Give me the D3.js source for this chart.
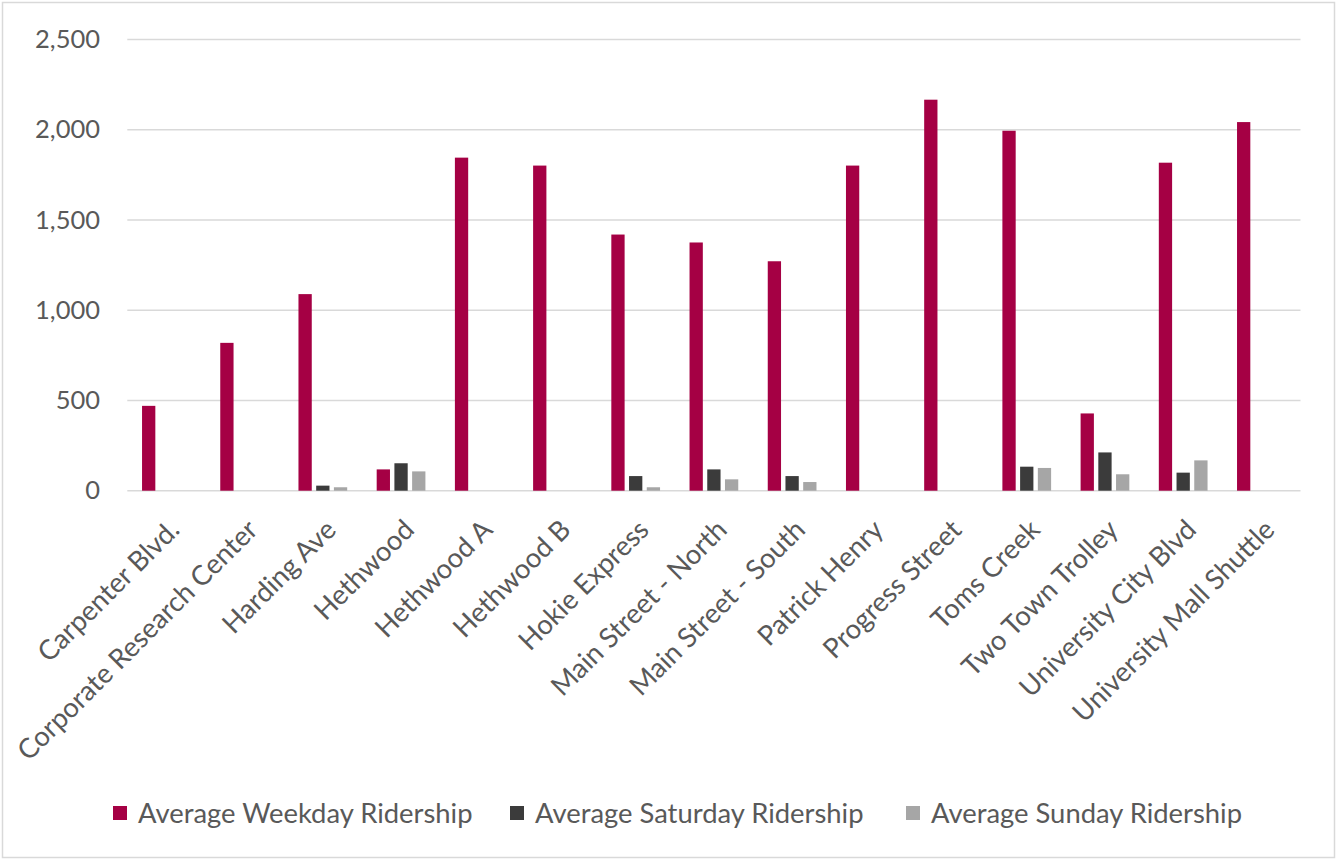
<!DOCTYPE html>
<html>
<head>
<meta charset="utf-8">
<script src="https://cdn.jsdelivr.net/npm/d3@7"></script>
<style>
  html, body { margin: 0; padding: 0; background: #fff; }
  svg text { font-family: Lato, "Open Sans", sans-serif; fill: #595959; }
</style>
</head>
<body>
<svg id="chart" width="1337" height="860"></svg>
<script>
// Routes
const routes = [
  "Carpenter Blvd.", "Corporate Research Center", "Harding Ave", "Hethwood",
  "Hethwood A", "Hethwood B", "Hokie Express", "Main Street - North",
  "Main Street - South", "Patrick Henry", "Progress Street", "Toms Creek",
  "Two Town Trolley", "University City Blvd", "University Mall Shuttle"
];

// Average riders per day type
const weekday  = [470, 819, 1089, 118, 1845, 1801, 1419, 1375, 1271, 1801, 2166, 1994, 428, 1817, 2042];
const saturday = [0, 0, 28, 152, 0, 0, 81, 118, 81, 0, 0, 133, 212, 100, 0];
const sunday   = [0, 0, 19, 107, 0, 0, 19, 63, 48, 0, 0, 126, 91, 168, 0];

const seriesNames = ["Average Weekday Ridership", "Average Saturday Ridership", "Average Sunday Ridership"];
const seriesColors = ["#a50044", "#3b3b3b", "#a6a6a6"];
const yTicks = [0, 500, 1000, 1500, 2000, 2500];

const svg = d3.select("#chart");
const W = 1337, H = 860;

// Outer chart frame
svg.append("rect")
  .attr("x", 2.5).attr("y", 2.5)
  .attr("width", W - 5).attr("height", H - 5)
  .attr("fill", "#fff").attr("stroke", "#d9d9d9").attr("stroke-width", 1.5);

const plot = { left: 127.3, right: 1300.5, top: 39.4, bottom: 490.7 };

const y = d3.scaleLinear().domain([0, 2500]).range([plot.bottom, plot.top]);
const x0 = d3.scaleBand().domain(routes).range([plot.left, plot.right]).padding(0);
const groupW = x0.bandwidth() * 0.623;
const x1 = d3.scaleBand().domain(seriesNames).range([0, groupW]).paddingInner(0.25).paddingOuter(0);

// Horizontal gridlines
svg.append("g")
  .selectAll("line")
  .data(yTicks)
  .join("line")
  .attr("x1", plot.left).attr("x2", plot.right)
  .attr("y1", d => y(d)).attr("y2", d => y(d))
  .attr("stroke", "#d9d9d9").attr("stroke-width", 1.5);

// Y axis labels
const yAxis = d3.axisLeft(y).tickValues(yTicks).tickFormat(d3.format(",")).tickSize(0).tickPadding(0);
const yg = svg.append("g").attr("transform", `translate(100,0)`).call(yAxis);
yg.select(".domain").remove();
yg.selectAll("text").attr("font-size", 25.5).attr("fill", "#595959")
  .style("font-family", "Lato, 'Open Sans', sans-serif");

// Bars
const table = routes.map((r, i) => ({ route: r, values: [weekday[i], saturday[i], sunday[i]] }));
const groups = svg.append("g")
  .selectAll("g")
  .data(table)
  .join("g")
  .attr("transform", d => `translate(${x0(d.route) + (x0.bandwidth() - groupW) / 2},0)`);

groups.selectAll("rect")
  .data(d => d.values.map((v, k) => ({ key: seriesNames[k], value: v, k })))
  .join("rect")
  .attr("x", d => x1(d.key))
  .attr("width", x1.bandwidth())
  .attr("y", d => y(d.value))
  .attr("height", d => y(0) - y(d.value))
  .attr("fill", d => seriesColors[d.k]);

// Category labels, rotated
const xAxis = d3.axisBottom(x0).tickSize(0).tickPadding(0);
const xg = svg.append("g").attr("transform", `translate(0,${plot.bottom})`).call(xAxis);
xg.select(".domain").remove();
xg.selectAll("text")
  .attr("font-size", 27.4)
  .attr("fill", "#595959")
  .style("font-family", "Lato, 'Open Sans', sans-serif")
  .attr("text-anchor", "end")
  .attr("dy", "0.35em")
  .attr("transform", "translate(8,34) rotate(-45)");

// Legend
const legendX = [113, 510, 906];
const legend = svg.append("g")
  .selectAll("g")
  .data(seriesNames)
  .join("g")
  .attr("transform", (d, i) => `translate(${legendX[i]},813)`);
legend.append("rect")
  .attr("x", 0).attr("y", -7).attr("width", 14).attr("height", 14)
  .attr("fill", (d, i) => seriesColors[i]);
legend.append("text")
  .attr("x", 25).attr("y", 0).attr("dy", "0.35em")
  .attr("font-size", 27.4)
  .text(d => d);
</script>
</body>
</html>
